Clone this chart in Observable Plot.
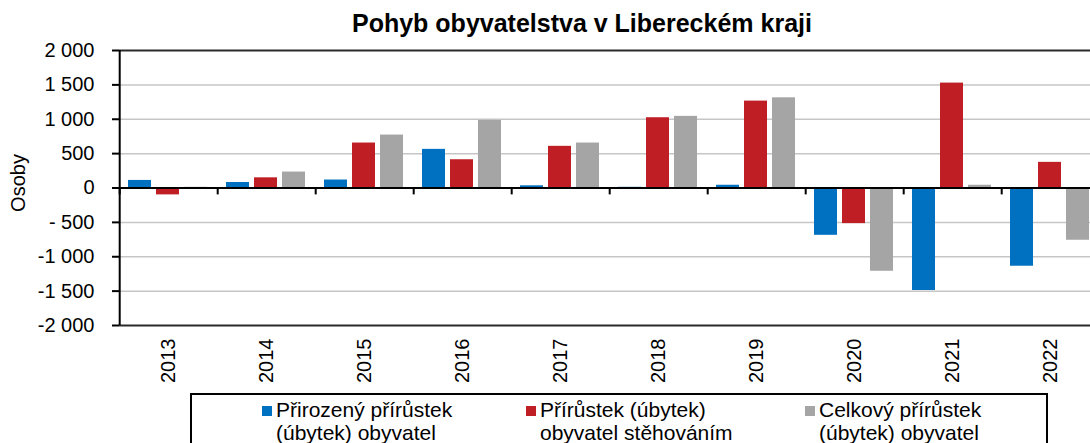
<!DOCTYPE html>
<html>
<head>
<meta charset="utf-8">
<script src="https://cdn.jsdelivr.net/npm/d3@7"></script>
<script src="https://cdn.jsdelivr.net/npm/@observablehq/plot@0.6"></script>
<style>
  html, body { margin: 0; padding: 0; background: #fff; }
  #wrap { position: relative; width: 1090px; height: 443px; overflow: hidden; font-family: "Liberation Sans", Arial, sans-serif; color: #000; }
  #title { position: absolute; top: 11px; left: 352px; font-size: 25px; font-weight: bold; line-height: 24px; white-space: nowrap; }
  #chart { position: absolute; top: 40px; left: 0; width: 1110px; }
  #ylabel { position: absolute; left: 18px; top: 183px; font-size: 20px; line-height: 20px; transform: translate(-50%, -50%) rotate(-90deg); white-space: nowrap; }
  #legend { position: absolute; left: 190px; top: 393px; width: 858px; height: 80px; border: 2px solid #000; box-sizing: border-box; }
  .item { position: absolute; display: flex; align-items: flex-start; font-size: 21px; line-height: 23px; white-space: nowrap; }
  .sw { width: 10px; height: 10px; margin-top: 8px; margin-right: 4px; flex: none; }
</style>
</head>
<body>
<div id="wrap">
  <div id="title"></div>
  <div id="ylabel"></div>
  <div id="chart"></div>
  <div id="legend"></div>
</div>
<script>
const titleText = "Pohyb obyvatelstva v Libereckém kraji";
const yLabel = "Osoby";
const years = ["2013","2014","2015","2016","2017","2018","2019","2020","2021","2022"];
const seriesKeys = ["natural","migration","total"];
const seriesLegend = [
  ["Přirozený přírůstek", "(úbytek) obyvatel"],
  ["Přírůstek (úbytek)", "obyvatel stěhováním"],
  ["Celkový přírůstek", "(úbytek) obyvatel"]
];
const seriesColors = ["#0070C0", "#BE1E24", "#A5A5A5"];
const naturalValues   = [110, 80, 116, 562, 32, 10, 40, -688, -1491, -1138];
const migrationValues = [-100, 148, 654, 411, 606, 1022, 1264, -518, 1526, 373];
const totalValues     = [10, 232, 770, 983, 654, 1042, 1312, -1211, 40, -760];
const yTicks = [-2000, -1500, -1000, -500, 0, 500, 1000, 1500, 2000];
const yTickLabels = ["-2 000", "-1 500", "-1 000", "- 500", "0", "500", "1 000", "1 500", "2 000"];

const seriesValues = [naturalValues, migrationValues, totalValues];
const data = years.flatMap((yr, i) => seriesKeys.map((s, j) => ({year: yr, series: s, value: seriesValues[j][i]})));

document.getElementById("title").textContent = titleText;
document.getElementById("ylabel").textContent = yLabel;

const chart = Plot.plot({
  width: 1110,
  height: 345,
  marginLeft: 115,
  marginRight: 8,
  marginTop: 10,
  marginBottom: 60,
  style: {fontFamily: "'Liberation Sans', Arial, sans-serif", fontSize: "20px", color: "#000", background: "transparent", overflow: "visible", maxWidth: "none"},
  fx: {domain: years, padding: 0},
  x: {domain: seriesKeys, paddingInner: 0.172, paddingOuter: 0.287, axis: null},
  y: {domain: [-2000, 2000]},
  color: {domain: seriesKeys, range: seriesColors},
  marks: [
    Plot.ruleY(yTicks.filter(t => t !== 0 && Math.abs(t) !== 2000), {stroke: "#C6C6C6", strokeWidth: 1.5}),
    Plot.ruleY([-2000, 2000], {stroke: "#2a2a2a", strokeWidth: 2}),
    Plot.barY(data, {fx: "year", x: "series", y: "value", fill: "series"}),
    Plot.ruleY([0], {stroke: "#000", strokeWidth: 2}),
    Plot.ruleX(years, {fx: d => d, x: () => seriesKeys[0], y1: 0, y2: -100, dx: -20.3, stroke: "#000", strokeWidth: 2}),
    Plot.ruleX([years[0]], {fx: d => d, x: () => seriesKeys[0], y1: -2000, y2: 2000, dx: -20.3, stroke: "#000", strokeWidth: 2}),
    Plot.axisY(yTicks, {anchor: "left", tickSize: 7, tickPadding: 18, tickFormat: d => yTickLabels[yTicks.indexOf(d)], label: null, strokeWidth: 2, fontSize: 20}),
    Plot.axisFx({anchor: "bottom", tickRotate: -90, tickSize: 0, tickPadding: 13, label: null, fontSize: 20})
  ]
});
document.getElementById("chart").appendChild(chart);

const legend = document.getElementById("legend");
const itemLeft = [70, 334, 613];
seriesLegend.forEach((lines, i) => {
  const it = document.createElement("div");
  it.className = "item";
  it.style.left = itemLeft[i] + "px";
  it.style.top = "3px";
  const sw = document.createElement("span");
  sw.className = "sw";
  sw.style.background = seriesColors[i];
  const tx = document.createElement("div");
  lines.forEach((l, k) => {
    if (k) tx.appendChild(document.createElement("br"));
    tx.appendChild(document.createTextNode(l));
  });
  it.appendChild(sw);
  it.appendChild(tx);
  legend.appendChild(it);
});
</script>
</body>
</html>
